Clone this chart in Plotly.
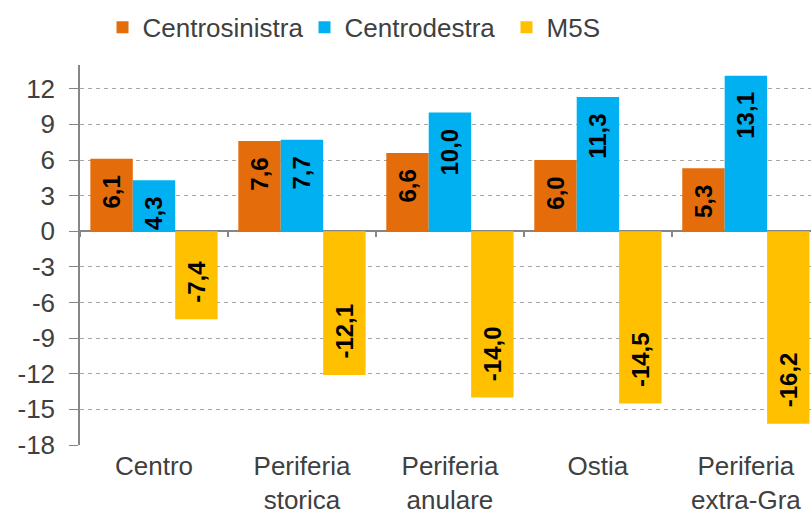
import plotly.graph_objects as go

categories = ["Centro", "Periferia<br>storica", "Periferia<br>anulare", "Ostia", "Periferia<br>extra-Gra"]
series_names = ["Centrosinistra", "Centrodestra", "M5S"]
centrosinistra = [6.1, 7.6, 6.6, 6.0, 5.3]
centrodestra = [4.3, 7.7, 10.0, 11.3, 13.1]
m5s = [-7.4, -12.1, -14.0, -14.5, -16.2]
colors = ["#E46C0A", "#00B0F0", "#FFC000"]
y_ticks = [12, 9, 6, 3, 0, -3, -6, -9, -12, -15, -18]

FONT = "Arial, Liberation Sans, sans-serif"
PAD = "\u00a0\u00a0"


def label(v):
    s = f"{v:.1f}".replace(".", ",")
    return s + PAD if v >= 0 else PAD + s


fig = go.Figure()
for name, vals, col in zip(series_names, [centrosinistra, centrodestra, m5s], colors):
    fig.add_trace(go.Bar(
        name=name, x=categories, y=vals, marker=dict(color=col, line=dict(width=0)),
        text=[label(v) for v in vals], textposition="inside", insidetextanchor="end",
        textangle=-90, textfont=dict(family=FONT, size=24, color="#000000", weight="bold"),
        constraintext="none", cliponaxis=False,
    ))

# invisible helper trace so the category boundary ticks can be drawn on the zero line
fig.add_trace(go.Scatter(x=categories, y=centrosinistra, xaxis="x2", yaxis="y",
                         mode="markers", marker=dict(opacity=0), showlegend=False,
                         hoverinfo="skip"))

fig.update_layout(
    width=811, height=524,
    margin=dict(l=80, r=0, t=65, b=79),
    paper_bgcolor="white", plot_bgcolor="white",
    barmode="group", bargap=0.14, bargroupgap=0,
    font=dict(family=FONT, size=26, color="#404040"),
    showlegend=True,
    legend=dict(orientation="h", xref="container", yref="container", x=0.1264, y=0.948,
                xanchor="left", yanchor="middle", font=dict(size=26, color="#404040"),
                entrywidth=157, entrywidthmode="pixels", traceorder="normal"),
    xaxis=dict(type="category", range=[-0.5, 4.44], showgrid=False, zeroline=False,
               showline=False, ticks="", ticklen=0, ticklabelstandoff=3,
               tickfont=dict(size=26, color="#404040")),
    xaxis2=dict(type="category", overlaying="x", anchor="free", position=18 / 32,
                range=[-0.5, 4.44], tickson="boundaries", ticks="outside", ticklen=5,
                tickcolor="#868686", tickwidth=1.5, side="bottom",
                showticklabels=False, showgrid=False, zeroline=False, showline=False),
    yaxis=dict(range=[-18, 14], tickvals=y_ticks, ticktext=[str(t) for t in y_ticks],
               showgrid=True, gridcolor="#A6A6A6", griddash="4px,4px", gridwidth=1,
               zeroline=True, zerolinecolor="#868686", zerolinewidth=1.5,
               showline=True, linecolor="#868686", linewidth=1.5,
               ticks="outside", ticklen=9, tickcolor="#868686", ticklabelstandoff=9,
               tickfont=dict(size=26, color="#404040")),
)

fig.write_html("out.html", post_script="document.body.style.margin='0';",
               config={"displayModeBar": False})
